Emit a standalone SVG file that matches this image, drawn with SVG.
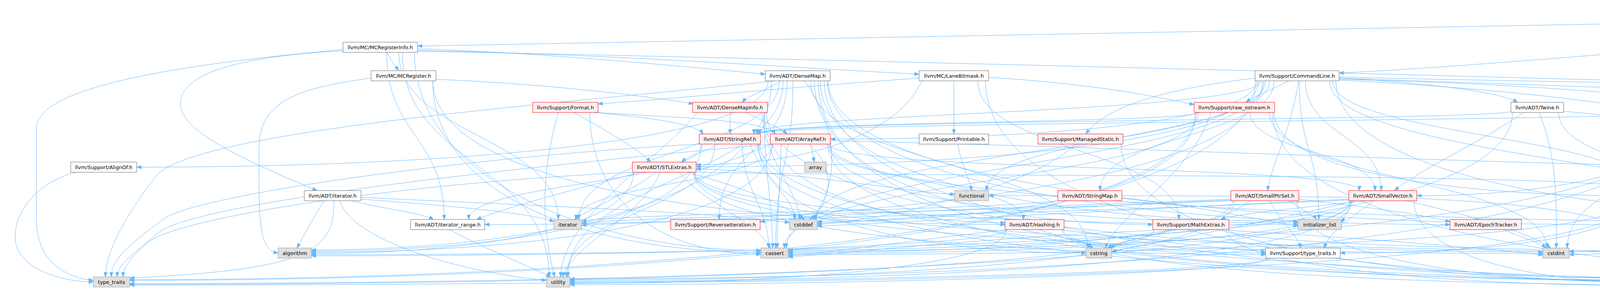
<svg xmlns="http://www.w3.org/2000/svg" width="6291" height="740" viewBox="0 0 6291 740">
<defs>
<marker id="a" viewBox="0 0 12 9" refX="12" refY="4.5" markerWidth="12" markerHeight="9" markerUnits="userSpaceOnUse" orient="auto"><path d="M0,0 L12,4.5 L0,9 z" fill="#63b8ff" stroke="#63b8ff" stroke-width="1"/></marker>
<style>
.e path{fill:none;stroke:#63b8ff;stroke-width:1;marker-end:url(#a)}
.w rect{fill:#fff;stroke:#666}
.r rect{fill:#fff0f0;stroke:#f00}
.g rect{fill:#e0e0e0;stroke:#999}
.rt rect{fill:#999;stroke:#666}
text{font-family:"DejaVu Sans","Liberation Sans",sans-serif;font-size:13px;fill:#000;text-anchor:middle}
</style>
</defs>
<rect x="0" y="0" width="6291" height="740" fill="#fff"/>
<g class="e" id="edges">
<path d="M5471,36 L1069,118"/>
<path d="M5471,44 C4700,80 3900,165 3428,187"/>
<path d="M5576,60 C5540,200 5560,430 5360,520 C5160,605 4400,640 4017,644"/>
<path d="M5591,60 L5591,580 C5591,690 5300,714 5190,720"/>
<path d="M5640,60 L5705,108"/>
<path d="M5690,60 L5905,108"/>
<path d="M5712,52 L6095,108"/>
<path d="M990,134 C1000,155 1012,168 1020,181"/>
<path d="M1069,125 C1400,135 1800,175 1959,190"/>
<path d="M1069,129 C1600,140 2100,178 2353,190"/>
<path d="M878,130 C600,145 470,190 462,260 C455,330 600,400 812,488"/>
<path d="M990,134 C990,348 1137,348 1137,562"/>
<path d="M1061,134 C1061,450 1500,641 1948,641"/>
<path d="M1069,131 C2500,160 4500,215 5200,235 C5390,245 5395,330 5395,450 C5395,560 5380,600 5200,615 C4800,630 4300,645 4017,652"/>
<path d="M1021,134 C1021,348 1429,348 1429,562"/>
<path d="M1030,134 C1030,421 1406,421 1406,709"/>
<path d="M878,127 C400,170 93,230 93,330 L93,560 C93,680 180,712 239,718"/>
<path d="M1116,203 C1400,215 1650,245 1775,266"/>
<path d="M1108,207 C1108,500 1500,646 1948,646"/>
<path d="M1108,207 C1108,465 1840,575 2573,575"/>
<path d="M950,200 C760,225 663,260 663,380 C663,560 660,640 712,648"/>
<path d="M2000,207 C1960,232 1915,245 1900,262"/>
<path d="M2118,207 C2118,465 2915,575 3712,575"/>
<path d="M1966,207 C1966,362 1158,428 350,428"/>
<path d="M2110,207 C2110,568 3191,712 4273,712"/>
<path d="M2085,207 C2085,465 2518,575 2951,575"/>
<path d="M2015,207 C2015,385 1841,385 1841,562"/>
<path d="M2095,207 C2095,516 2667,648 3240,648"/>
<path d="M1975,207 C1975,516 1386,640 797,640"/>
<path d="M2030,207 C2030,421 1986,421 1986,635"/>
<path d="M2060,207 C2150,330 2150,480 2075,562"/>
<path d="M2075,207 C2075,421 2785,421 2785,635"/>
<path d="M2100,207 C2100,465 2711,567 3323,567"/>
<path d="M1995,207 C1995,385 1482,385 1482,562"/>
<path d="M2120,207 C2120,465 3121,575 4123,575"/>
<path d="M1985,207 C1500,260 500,330 400,450 C330,540 270,640 270,709"/>
<path d="M2005,207 C2005,458 1454,458 1454,709"/>
<path d="M1869,288 L1869,343"/>
<path d="M1910,288 C1950,310 1995,325 2015,343"/>
<path d="M1957,288 C1957,489 2265,570 2573,570"/>
<path d="M1955,288 C1960,461 1975,500 1978,635"/>
<path d="M1950,288 C1962,420 2040,480 2048,562"/>
<path d="M1962,288 C1962,540 2956,645 3950,645"/>
<path d="M1785,288 C1700,400 1440,550 1435,709"/>
<path d="M2442,207 L2442,343"/>
<path d="M2353,200 C2000,225 1700,255 1531,266"/>
<path d="M2360,207 C2300,340 2076,422 1782,422"/>
<path d="M2503,207 C2503,385 3018,385 3018,562"/>
<path d="M2523,207 C2523,568 3398,714 4273,714"/>
<path d="M2531,198 C2800,215 2950,245 3057,268"/>
<path d="M3300,207 C3260,228 3210,245 3190,262"/>
<path d="M3213,200 C3000,225 2830,270 2780,343"/>
<path d="M3325,207 C3300,350 3255,420 3245,488"/>
<path d="M3428,200 C3700,215 3850,240 3885,262"/>
<path d="M3428,203 C3900,215 4200,240 4312,262"/>
<path d="M3218,207 C3218,311 2672,356 2126,356"/>
<path d="M3420,207 C3420,465 4192,568 4965,568"/>
<path d="M3412,207 C3412,348 4201,348 4201,488"/>
<path d="M3222,207 C3222,362 2502,427 1782,427"/>
<path d="M3342,207 C3342,348 3536,348 3536,488"/>
<path d="M3262,207 C3262,348 2816,348 2816,488"/>
<path d="M3228,207 C3228,290 1930,290 1930,343"/>
<path d="M3232,207 C3232,465 2236,575 1241,575"/>
<path d="M3404,207 C3404,421 4705,421 4705,635"/>
<path d="M3236,207 C3236,421 2013,421 2013,635"/>
<path d="M3428,197 C4300,220 5250,215 5400,280 C5460,310 5440,560 5296,635"/>
<path d="M3240,207 C3240,385 2088,385 2088,562"/>
<path d="M3250,207 C3250,348 2526,348 2526,488"/>
<path d="M3326,207 C3326,385 3376,385 3376,562"/>
<path d="M3428,200 C4300,230 5100,260 5300,265 C5480,280 5500,450 5480,520 C5440,640 5300,700 5190,717"/>
<path d="M3214,207 C3214,568 1773,716 332,716"/>
<path d="M3428,205 C4100,240 4570,320 4578,415"/>
<path d="M1470,288 C1560,340 1640,385 1665,415"/>
<path d="M1525,288 C1700,300 1960,305 1985,343"/>
<path d="M1520,288 C1650,300 1780,315 1800,343"/>
<path d="M1510,288 C1510,520 1700,651 1948,651"/>
<path d="M1430,288 C1380,450 1390,600 1420,709"/>
<path d="M3065,288 C3065,315 1938,310 1938,343"/>
<path d="M3200,288 C3200,388 3520,388 3520,488"/>
<path d="M3068,288 C3068,461 2008,461 2008,635"/>
<path d="M3062,288 C3062,489 2577,567 2092,567"/>
<path d="M3250,288 C3250,461 3960,461 3960,635"/>
<path d="M3100,288 C3050,450 2850,560 2830,635"/>
<path d="M3258,288 C3258,592 4195,718 5132,718"/>
<path d="M3060,288 C3060,592 1696,718 332,718"/>
<path d="M3262,288 C3262,437 3716,501 4170,501"/>
<path d="M3900,288 C3800,360 3640,430 3570,488"/>
<path d="M3870,284 C3870,310 1942,305 1942,343"/>
<path d="M3990,288 C3990,461 4720,461 4720,635"/>
<path d="M3872,288 C3872,540 2945,640 2018,640"/>
<path d="M3940,288 C3985,400 3985,500 3984,635"/>
<path d="M4003,285 C4500,330 4900,380 5000,415 C5200,500 5250,600 5170,709"/>
<path d="M4380,295 C4345,380 4290,440 4258,488"/>
<path d="M4470,295 C4470,428 5000,428 5000,562"/>
<path d="M4318,295 C4318,439 3972,501 3627,501"/>
<path d="M4312,285 C4312,312 1945,310 1945,343"/>
<path d="M4316,295 C4316,542 3167,643 2018,643"/>
<path d="M4340,295 C4340,465 4012,465 4012,635"/>
<path d="M4487,285 C4800,330 5150,400 5300,520 C5380,600 5330,690 5190,713"/>
<path d="M4450,295 C4520,340 4575,380 4585,415"/>
<path d="M4400,295 C4420,500 4410,600 4390,709"/>
<path d="M4487,290 C4700,320 4760,500 4770,635"/>
<path d="M4314,295 C4314,594 2886,714 1459,714"/>
<path d="M1840,369 C1800,390 1760,400 1745,415"/>
<path d="M1798,369 C1798,470 1200,470 1200,562"/>
<path d="M1940,369 C1940,616 3106,717 4273,717"/>
<path d="M1795,369 C1795,564 1296,643 797,643"/>
<path d="M1900,369 C1905,500 1965,520 1968,635"/>
<path d="M1920,369 C1960,470 2030,500 2035,562"/>
<path d="M1942,369 C1942,564 2361,648 2780,648"/>
<path d="M1945,369 C1945,616 3538,726 5132,726"/>
<path d="M1792,369 C1200,400 500,500 420,560 C340,620 285,660 285,709"/>
<path d="M1830,369 C1830,540 1450,540 1450,709"/>
<path d="M2075,369 L2085,415"/>
<path d="M2118,369 C2118,465 2620,465 2620,562"/>
<path d="M2124,369 C2124,513 3544,573 4965,573"/>
<path d="M2124,369 C2124,440 3480,420 3480,488"/>
<path d="M1975,369 C1900,400 1820,433 1782,433"/>
<path d="M2120,369 C2120,616 3196,719 4273,719"/>
<path d="M1976,369 C1976,564 1386,646 797,646"/>
<path d="M2000,369 C1995,500 1990,560 1990,635"/>
<path d="M2070,369 C2140,430 2130,500 2082,562"/>
<path d="M2124,369 C2124,513 2723,571 3323,571"/>
<path d="M1978,369 C1978,470 1475,470 1475,562"/>
<path d="M1974,369 C1300,430 480,520 400,600 C330,660 300,680 300,709"/>
<path d="M2126,360 C3000,380 4000,428 4552,428"/>
<path d="M2452,369 C2460,420 2480,450 2487,488"/>
<path d="M2870,369 C2870,616 3571,722 4273,722"/>
<path d="M2753,369 C2700,420 2600,470 2400,520 C2250,560 2150,571 2092,571"/>
<path d="M195,441 C80,470 30,560 40,620 C55,700 180,722 239,722"/>
<path d="M1780,441 C2500,455 4150,440 4215,488"/>
<path d="M1680,441 C1600,500 1500,540 1470,562"/>
<path d="M1640,441 C1450,490 1300,530 1220,562"/>
<path d="M1775,441 C1775,586 3224,648 4673,648"/>
<path d="M1622,441 C1622,586 1210,649 797,649"/>
<path d="M1740,441 C1800,520 1930,560 1972,635"/>
<path d="M1760,441 C1900,480 2000,520 2060,562"/>
<path d="M1778,441 C1778,586 2864,649 3950,649"/>
<path d="M1782,432 C2100,445 2350,497 2444,497"/>
<path d="M1779,441 C1779,535 2551,575 3323,575"/>
<path d="M1622,441 C1000,470 450,560 380,620 C330,660 315,690 315,709"/>
<path d="M1690,441 C1640,560 1470,620 1440,709"/>
<path d="M1776,441 C1776,586 2508,652 3240,652"/>
<path d="M900,514 C980,535 1080,545 1110,562"/>
<path d="M924,505 C1200,520 1800,540 2021,570"/>
<path d="M924,510 C1200,530 1380,550 1418,568"/>
<path d="M855,514 C855,640 800,690 332,712"/>
<path d="M870,514 C900,620 1200,700 1399,718"/>
<path d="M830,514 C800,560 780,600 760,635"/>
<path d="M2872,508 C3100,530 3250,570 3323,579"/>
<path d="M2710,514 C2500,540 1600,545 1489,567"/>
<path d="M3325,510 C3500,530 3650,550 3712,568"/>
<path d="M3320,514 C3320,660 3796,724 4273,724"/>
<path d="M3151,510 C2800,525 2100,545 1946,568"/>
<path d="M3250,514 C3280,570 3320,600 3330,635"/>
<path d="M3156,514 C3156,608 2587,646 2018,646"/>
<path d="M3151,512 C2700,530 2200,565 2092,575"/>
<path d="M3200,514 C3100,590 2900,600 2835,635"/>
<path d="M3300,514 C3330,535 3360,548 3370,562"/>
<path d="M3151,514 C2600,540 1600,555 1489,572"/>
<path d="M3160,514 C3160,660 2310,717 1459,717"/>
<path d="M3620,514 C3620,660 3946,727 4273,727"/>
<path d="M3500,514 C3300,535 3160,548 3125,562"/>
<path d="M3520,514 C3450,560 3400,600 3390,635"/>
<path d="M3458,514 C3458,608 2128,652 797,652"/>
<path d="M3460,514 C3460,608 2739,649 2018,649"/>
<path d="M3453,510 C3000,530 2300,570 2092,579"/>
<path d="M3600,514 C3800,560 3920,600 3970,635"/>
<path d="M3470,514 C3200,580 2900,630 2846,645"/>
<path d="M3453,505 C3000,500 2700,501 2531,501"/>
<path d="M3460,514 C3450,545 3440,560 3434,570"/>
<path d="M3455,512 C2800,545 1700,565 1489,577"/>
<path d="M3627,508 C3900,520 4050,545 4123,568"/>
<path d="M3456,514 C3456,660 1894,726 332,726"/>
<path d="M3462,514 C3462,660 2460,720 1459,720"/>
<path d="M4324,508 C4600,520 4850,560 4965,578"/>
<path d="M4250,514 C4280,600 4330,650 4340,709"/>
<path d="M4175,514 C4175,608 3803,648 3431,648"/>
<path d="M4172,514 C4172,608 3095,652 2018,652"/>
<path d="M4190,514 C4170,535 4155,550 4152,562"/>
<path d="M4178,514 C4178,660 2818,723 1459,723"/>
<path d="M2660,588 C2720,610 2780,620 2798,635"/>
<path d="M2724,590 C2900,610 3150,640 3240,644"/>
<path d="M2720,588 C2720,682 3496,729 4273,729"/>
<path d="M2578,588 C2578,630 1687,655 797,655"/>
<path d="M2580,588 C2300,620 2100,650 2018,655"/>
<path d="M2722,588 C2722,682 3927,730 5132,730"/>
<path d="M2576,588 C2576,682 2017,726 1459,726"/>
<path d="M3000,588 C2920,610 2870,620 2842,635"/>
<path d="M3140,588 C3140,682 3706,732 4273,732"/>
<path d="M3144,588 C3144,630 4184,651 5224,651"/>
<path d="M3146,590 C3500,610 3850,640 3950,653"/>
<path d="M2954,588 C2954,682 1643,728 332,728"/>
<path d="M2951,590 C2500,610 2150,650 2018,658"/>
<path d="M3850,588 C3900,610 3940,620 3958,635"/>
<path d="M4710,588 L4745,635"/>
<path d="M4680,588 C4560,640 4480,690 4430,709"/>
<path d="M3245,661 C3245,700 1800,730 332,730"/>
<path d="M3250,661 C3250,700 2200,729 1459,729"/>
<path d="M4720,661 C4600,690 4480,705 4440,709"/>
<path d="M4830,661 C4950,690 5050,711 5132,711"/>
<path d="M1150,588 C1250,640 1350,680 1410,709"/>
</g>
<g id="node_root" class="rt"><rect x="5471" y="5" width="241" height="55"/><text x="5481" y="21" style="text-anchor:start">lib/Target/Hexagon</text><text x="5481" y="36" style="text-anchor:start">/MCTargetDesc/HexagonMCTarget</text><text x="5591.5" y="51">Desc.h</text></g>
<g id="node_MCRegisterInfo" class="w"><rect x="878" y="108" width="191" height="26"/><text x="973.5" y="125.5">llvm/MC/MCRegisterInfo.h</text></g>
<g id="node_GenReg" class="g"><rect x="5629" y="108" width="207" height="26"/><text x="5732.5" y="125.5">HexagonGenRegisterInfo.inc</text></g>
<g id="node_GenInstr" class="g"><rect x="5862" y="108" width="182" height="26"/><text x="5953" y="125.5">HexagonGenInstrInfo.inc</text></g>
<g id="node_GenSub" class="g"><rect x="6068" y="108" width="217" height="26"/><text x="6176.5" y="125.5">HexagonGenSubtargetInfo.inc</text></g>
<g id="node_MCRegister" class="w"><rect x="950" y="181" width="166" height="26"/><text x="1033" y="198.5">llvm/MC/MCRegister.h</text></g>
<g id="node_DenseMap" class="w"><rect x="1959" y="181" width="166" height="26"/><text x="2042" y="198.5">llvm/ADT/DenseMap.h</text></g>
<g id="node_LaneBitmask" class="w"><rect x="2353" y="181" width="178" height="26"/><text x="2442" y="198.5">llvm/MC/LaneBitmask.h</text></g>
<g id="node_CommandLine" class="w"><rect x="3213" y="181" width="215" height="26"/><text x="3320.5" y="198.5">llvm/Support/CommandLine.h</text></g>
<g id="node_Format" class="r"><rect x="1364" y="262" width="167" height="26"/><text x="1447.5" y="279.5">llvm/Support/Format.h</text></g>
<g id="node_DenseMapInfo" class="r"><rect x="1773" y="262" width="192" height="26"/><text x="1869" y="279.5">llvm/ADT/DenseMapInfo.h</text></g>
<g id="node_raw_ostream" class="r"><rect x="3057" y="262" width="206" height="26"/><text x="3160" y="279.5">llvm/Support/raw_ostream.h</text></g>
<g id="node_Twine" class="w"><rect x="3868" y="262" width="135" height="26"/><text x="3935.5" y="279.5">llvm/ADT/Twine.h</text></g>
<g id="node_VirtualFileSystem" class="r"><rect x="4312" y="255" width="175" height="40"/><text x="4399.5" y="271">llvm/Support/VirtualFile</text><text x="4399.5" y="286">System.h</text></g>
<g id="node_StringRef" class="r"><rect x="1790" y="343" width="157" height="26"/><text x="1868.5" y="360.5">llvm/ADT/StringRef.h</text></g>
<g id="node_ArrayRef" class="r"><rect x="1972" y="343" width="154" height="26"/><text x="2049" y="360.5">llvm/ADT/ArrayRef.h</text></g>
<g id="node_Printable" class="w"><rect x="2353" y="343" width="178" height="26"/><text x="2442" y="360.5">llvm/Support/Printable.h</text></g>
<g id="node_ManagedStatic" class="r"><rect x="2657" y="343" width="218" height="26"/><text x="2766" y="360.5">llvm/Support/ManagedStatic.h</text></g>
<g id="node_AlignOf" class="w"><rect x="181" y="415" width="169" height="26"/><text x="265.5" y="432.5">llvm/Support/AlignOf.h</text></g>
<g id="node_STLExtras" class="r"><rect x="1619" y="415" width="163" height="26"/><text x="1700.5" y="432.5">llvm/ADT/STLExtras.h</text></g>
<g id="node_array" class="g"><rect x="2060" y="415" width="55" height="26"/><text x="2087.5" y="432.5">array</text></g>
<g id="node_vector" class="g"><rect x="4552" y="415" width="63" height="26"/><text x="4583.5" y="432.5">vector</text></g>
<g id="node_iterator_h" class="w"><rect x="779" y="488" width="145" height="26"/><text x="851.5" y="505.5">llvm/ADT/iterator.h</text></g>
<g id="node_functional" class="g"><rect x="2444" y="488" width="87" height="26"/><text x="2487.5" y="505.5">functional</text></g>
<g id="node_StringMap" class="r"><rect x="2708" y="488" width="164" height="26"/><text x="2790" y="505.5">llvm/ADT/StringMap.h</text></g>
<g id="node_SmallPtrSet" class="r"><rect x="3151" y="488" width="174" height="26"/><text x="3238" y="505.5">llvm/ADT/SmallPtrSet.h</text></g>
<g id="node_SmallVector" class="r"><rect x="3453" y="488" width="174" height="26"/><text x="3540" y="505.5">llvm/ADT/SmallVector.h</text></g>
<g id="node_Optional" class="r"><rect x="4170" y="488" width="154" height="26"/><text x="4247" y="505.5">llvm/ADT/Optional.h</text></g>
<g id="node_iterator_range" class="w"><rect x="1051" y="562" width="190" height="26"/><text x="1146" y="579.5">llvm/ADT/iterator_range.h</text></g>
<g id="node_iterator" class="g"><rect x="1418" y="562" width="71" height="26"/><text x="1453.5" y="579.5">iterator</text></g>
<g id="node_ReverseIteration" class="r"><rect x="1717" y="562" width="229" height="26"/><text x="1831.5" y="579.5">llvm/Support/ReverseIteration.h</text></g>
<g id="node_cstddef" class="g"><rect x="2021" y="562" width="71" height="26"/><text x="2056.5" y="579.5">cstddef</text></g>
<g id="node_Hashing" class="r"><rect x="2573" y="562" width="151" height="26"/><text x="2648.5" y="579.5">llvm/ADT/Hashing.h</text></g>
<g id="node_MathExtras" class="r"><rect x="2951" y="562" width="195" height="26"/><text x="3048.5" y="579.5">llvm/Support/MathExtras.h</text></g>
<g id="node_initializer_list" class="g"><rect x="3323" y="562" width="111" height="26"/><text x="3378.5" y="579.5">initializer_list</text></g>
<g id="node_EpochTracker" class="r"><rect x="3712" y="562" width="183" height="26"/><text x="3803.5" y="579.5">llvm/ADT/EpochTracker.h</text></g>
<g id="node_new" class="g"><rect x="4123" y="562" width="49" height="26"/><text x="4147.5" y="579.5">new</text></g>
<g id="node_MemAlloc" class="r"><rect x="4602" y="562" width="187" height="26"/><text x="4695.5" y="579.5">llvm/Support/MemAlloc.h</text></g>
<g id="node_None" class="w"><rect x="4965" y="562" width="132" height="26"/><text x="5031" y="579.5">llvm/ADT/None.h</text></g>
<g id="node_algorithm" class="g"><rect x="712" y="635" width="85" height="26"/><text x="754.5" y="652.5">algorithm</text></g>
<g id="node_cassert" class="g"><rect x="1948" y="635" width="70" height="26"/><text x="1983" y="652.5">cassert</text></g>
<g id="node_cstring" class="g"><rect x="2780" y="635" width="66" height="26"/><text x="2813" y="652.5">cstring</text></g>
<g id="node_llvm_type_traits" class="w"><rect x="3240" y="635" width="191" height="26"/><text x="3335.5" y="652.5">llvm/Support/type_traits.h</text></g>
<g id="node_cstdint" class="g"><rect x="3950" y="635" width="67" height="26"/><text x="3983.5" y="652.5">cstdint</text></g>
<g id="node_ErrorHandling" class="w"><rect x="4673" y="635" width="211" height="26"/><text x="4778.5" y="652.5">llvm/Support/ErrorHandling.h</text></g>
<g id="node_climits" class="g"><rect x="5224" y="635" width="66" height="26"/><text x="5257" y="652.5">climits</text></g>
<g id="node_type_traits" class="g"><rect x="239" y="709" width="93" height="26"/><text x="285.5" y="726.5">type_traits</text></g>
<g id="node_utility" class="g"><rect x="1399" y="709" width="60" height="26"/><text x="1429" y="726.5">utility</text></g>
<g id="node_Compiler" class="r"><rect x="4273" y="709" width="178" height="26"/><text x="4362" y="726.5">llvm/Support/Compiler.h</text></g>
<g id="node_string" class="g"><rect x="5132" y="709" width="58" height="26"/><text x="5161" y="726.5">string</text></g>
</svg>
